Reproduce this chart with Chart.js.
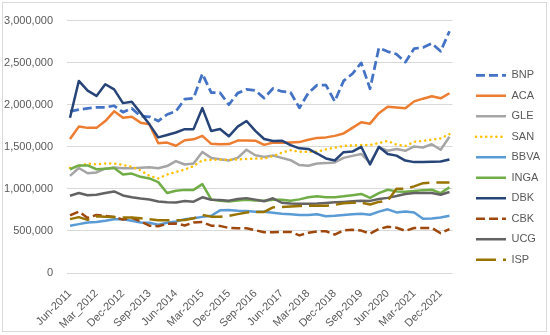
<!DOCTYPE html>
<html>
<head>
<meta charset="utf-8">
<script src="https://cdn.jsdelivr.net/npm/chart.js@4.4.1/dist/chart.umd.min.js"></script>
<style>
  body { margin: 0; background: #fff; }
  #wrap { position: relative; width: 550px; height: 335px; }
  #frame { position: absolute; left: 2px; top: 2px; width: 543px; height: 328px; border: 1px solid #d9d9d9; pointer-events: none; }
</style>
</head>
<body>
<div id="wrap">
  <canvas id="chart" width="550" height="335"></canvas>
  <div id="frame"></div>
</div>
<script>
// quarterly observations, Jun-2011 .. Mar-2022
const quarters = [
  'Jun-2011', 'Sep-2011', 'Dec-2011', 'Mar_2012', 'Jun-2012', 'Sep-2012', 'Dec-2012', 'Mar-2013',
  'Jun-2013', 'Sep-2013', 'Dec-2013', 'Mar-2014', 'Jun-2014', 'Sep-2014', 'Dec-2014', 'Mar-2015',
  'Jun-2015', 'Sep-2015', 'Dec-2015', 'Mar-2016', 'Jun-2016', 'Sep-2016', 'Dec-2016', 'Mar-2017',
  'Jun-2017', 'Sep-2017', 'Dec-2017', 'Mar-2018', 'Jun-2018', 'Sep-2018', 'Dec-2018', 'Mar-2019',
  'Jun-2019', 'Sep-2019', 'Dec-2019', 'Mar-2020', 'Jun-2020', 'Sep-2020', 'Dec-2020', 'Mar-2021',
  'Jun-2021', 'Sep-2021', 'Dec-2021', 'Mar-2022'
];

// labels shown on the x axis (every third quarter)
const tickIndex = [0, 3, 6, 9, 12, 15, 18, 21, 24, 27, 30, 33, 36, 39, 42];
const tickLabels = ['Jun-2011', 'Mar_2012', 'Dec-2012', 'Sep-2013', 'Jun-2014', 'Mar-2015', 'Dec-2015',
  'Sep-2016', 'Jun-2017', 'Mar-2018', 'Dec-2018', 'Sep-2019', 'Jun-2020', 'Mar-2021', 'Dec-2021'];

const yTicks = [0, 500000, 1000000, 1500000, 2000000, 2500000, 3000000];

const BNP = [1922000, 1942000, 1957000, 1969000, 1969000, 1988000, 1911000, 1957000, 1864000, 1857000,
  1806000, 1884000, 1922000, 2066000, 2078000, 2368000, 2143000, 2143000, 2000000, 2138000,
  2183000, 2170000, 2079000, 2193000, 2158000, 2145000, 1962000, 2140000, 2233000, 2233000,
  2040000, 2283000, 2368000, 2498000, 2190000, 2675000, 2632000, 2601000, 2506000, 2668000,
  2680000, 2728000, 2635000, 2873000];

const ACA = [1593000, 1740000, 1725000, 1725000, 1806000, 1922000, 1845000, 1857000, 1787000, 1767000,
  1543000, 1550000, 1512000, 1578000, 1589000, 1630000, 1535000, 1530000, 1532000, 1574000,
  1576000, 1572000, 1523000, 1550000, 1548000, 1552000, 1556000, 1584000, 1606000, 1612000,
  1630000, 1659000, 1725000, 1792000, 1775000, 1900000, 1975000, 1966000, 1958000, 2040000,
  2072000, 2100000, 2076000, 2137000];

const GLE = [1155000, 1248000, 1185000, 1195000, 1240000, 1255000, 1244000, 1244000, 1252000, 1258000,
  1246000, 1271000, 1330000, 1290000, 1302000, 1438000, 1368000, 1353000, 1337000, 1368000,
  1465000, 1400000, 1380000, 1396000, 1368000, 1341000, 1283000, 1275000, 1302000, 1306000,
  1314000, 1368000, 1392000, 1415000, 1310000, 1492000, 1453000, 1473000, 1453000, 1504000,
  1492000, 1531000, 1465000, 1620000];

const SAN = [1248000, 1270000, 1300000, 1291000, 1302000, 1302000, 1283000, 1264000, 1220000, 1155000,
  1124000, 1170000, 1200000, 1230000, 1270000, 1340000, 1345000, 1350000, 1345000, 1350000,
  1355000, 1360000, 1360000, 1390000, 1430000, 1460000, 1440000, 1440000, 1440000, 1470000,
  1490000, 1510000, 1515000, 1520000, 1520000, 1545000, 1570000, 1525000, 1510000, 1560000,
  1570000, 1585000, 1600000, 1650000];

const BBVA = [562000, 581000, 600000, 605000, 620000, 640000, 640000, 620000, 600000, 597000,
  574000, 597000, 612000, 640000, 651000, 667000, 680000, 745000, 748000, 740000,
  736000, 729000, 729000, 717000, 705000, 698000, 690000, 690000, 698000, 675000,
  680000, 690000, 698000, 705000, 692000, 729000, 757000, 720000, 730000, 720000,
  645000, 648000, 660000, 680000];

const INGA = [1233000, 1279000, 1279000, 1233000, 1240000, 1248000, 1170000, 1182000, 1143000, 1124000,
  1080000, 950000, 977000, 988000, 988000, 1056000, 874000, 860000, 850000, 862000,
  872000, 862000, 860000, 872000, 872000, 860000, 875000, 900000, 911000, 900000,
  900000, 911000, 925000, 940000, 893000, 950000, 990000, 970000, 965000, 975000,
  985000, 990000, 950000, 1018000];

const DBK = [1845000, 2283000, 2167000, 2105000, 2244000, 2182000, 2019000, 2035000, 1903000, 1767000,
  1612000, 1640000, 1670000, 1710000, 1710000, 1960000, 1688000, 1712000, 1625000, 1740000,
  1807000, 1690000, 1593000, 1570000, 1572000, 1520000, 1482000, 1475000, 1420000, 1362000,
  1337000, 1436000, 1443000, 1500000, 1290000, 1500000, 1415000, 1395000, 1336000, 1318000,
  1318000, 1322000, 1326000, 1350000];

const CBK = [685000, 730000, 655000, 690000, 678000, 667000, 635000, 655000, 615000, 562000,
  555000, 585000, 589000, 565000, 601000, 605000, 563000, 560000, 535000, 532000,
  531000, 508000, 485000, 485000, 488000, 488000, 447000, 478000, 495000, 496000,
  457000, 508000, 513000, 504000, 468000, 523000, 550000, 538000, 502000, 535000,
  535000, 535000, 473000, 521000];

const UCG = [919000, 950000, 925000, 930000, 950000, 969000, 922000, 900000, 885000, 874000,
  850000, 841000, 837000, 855000, 848000, 900000, 870000, 868000, 860000, 880000,
  890000, 872000, 853000, 888000, 835000, 825000, 822000, 822000, 825000, 833000,
  840000, 845000, 852000, 860000, 857000, 880000, 893000, 915000, 940000, 950000,
  950000, 950000, 930000, 962000];

const ISP = [640000, 664000, 632000, 675000, 668000, 665000, 659000, 660000, 651000, 640000,
  628000, 628000, 628000, 630000, 650000, 690000, 670000, 668000, 680000, 700000,
  720000, 726000, 726000, 780000, 785000, 790000, 795000, 800000, 800000, 800000,
  810000, 830000, 835000, 835000, 815000, 845000, 860000, 1000000, 1000000, 1030000,
  1068000, 1075000, 1075000, 1075000];

const seriesNames = ['BNP', 'ACA', 'GLE', 'SAN', 'BBVA', 'INGA', 'DBK', 'CBK', 'UCG', 'ISP'];
const seriesValues = [BNP, ACA, GLE, SAN, BBVA, INGA, DBK, CBK, UCG, ISP];
const seriesColors = ['#4472C4', '#ED7D31', '#A5A5A5', '#FFC000', '#5B9BD5',
  '#70AD47', '#264478', '#9E480E', '#636363', '#997300'];
const seriesDash = [[9, 4], [], [], [0.1, 5], [], [], [], [9, 4], [], [20, 7]];

const textColor = '#595959';
Chart.defaults.font.family = "'Liberation Sans Narrow', 'Liberation Sans', Arial, sans-serif";
Chart.defaults.font.size = 11;
Chart.defaults.color = textColor;

const datasets = seriesNames.map((name, i) => ({
  label: name,
  data: seriesValues[i].map((v, q) => ({ x: q, y: v })),
  borderColor: seriesColors[i],
  backgroundColor: seriesColors[i],
  borderWidth: i === 0 ? 2.75 : 2.5,
  borderDash: seriesDash[i],
  borderCapStyle: name === 'SAN' ? 'round' : 'butt',
  borderJoinStyle: 'round',
  pointRadius: 0,
  tension: 0,
  order: seriesNames.length - i
}));

// legend entries drawn as short line samples with each series' dash pattern
function legendLabels(chart) {
  const items = Chart.defaults.plugins.legend.labels.generateLabels(chart);
  return items.map(item => {
    const ds = chart.data.datasets[item.datasetIndex];
    item.lineDash = ds.borderDash;
    item.lineWidth = ds.borderWidth;
    item.lineCap = ds.borderCapStyle;
    item.strokeStyle = ds.borderColor;
    return item;
  });
}

// the legend column sits a little above the vertical centre
const legendNudge = {
  id: 'legendNudge',
  afterLayout(chart) {
    chart.legend.top -= 8;
    chart.legend.bottom -= 8;
  }
};

new Chart(document.getElementById('chart'), {
  type: 'line',
  data: { datasets: datasets },
  plugins: [legendNudge],
  options: {
    responsive: false,
    animation: false,
    layout: { padding: { top: 16, right: 0, bottom: 0, left: 0 } },
    plugins: {
      tooltip: { enabled: false },
      legend: {
        position: 'right',
        maxWidth: 84,
        labels: {
          usePointStyle: true,
          pointStyle: 'line',
          pointStyleWidth: 30,
          padding: 9.5,
          color: textColor,
          generateLabels: legendLabels,
          sort: (a, b) => a.datasetIndex - b.datasetIndex
        }
      }
    },
    scales: {
      x: {
        type: 'linear',
        min: -0.34,
        max: 43.34,
        grid: { display: false },
        border: { display: false },
        afterBuildTicks: s => { s.ticks = tickIndex.map(v => ({ value: v })); },
        afterFit: s => { s.height = 62; },
        ticks: {
          autoSkip: false,
          minRotation: 45,
          maxRotation: 45,
          padding: 6,
          callback: (v, i) => tickLabels[i]
        }
      },
      y: {
        min: 0,
        max: 3000000,
        afterBuildTicks: s => { s.ticks = yTicks.map(v => ({ value: v })); },
        afterFit: s => { s.width = 67; },
        grid: { color: '#d9d9d9', drawTicks: false },
        border: { display: false },
        ticks: {
          padding: 14,
          callback: v => v.toLocaleString('en-US')
        }
      },
      gap: {
        position: 'right',
        afterFit: s => { s.width = 14; },
        grid: { display: false },
        border: { display: false },
        ticks: { display: false }
      }
    }
  }
});
</script>
</body>
</html>
